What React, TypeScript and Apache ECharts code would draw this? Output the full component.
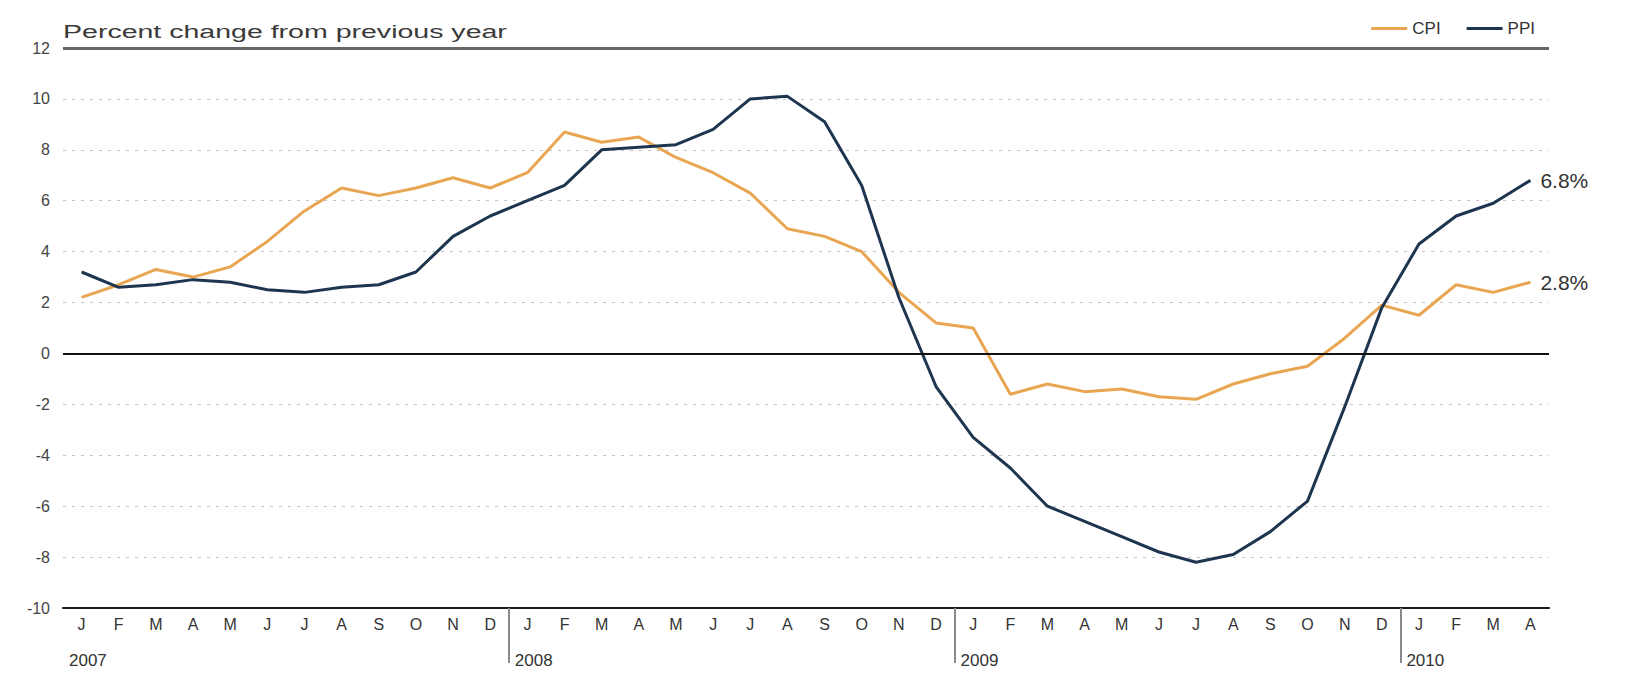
import React, { useEffect, useRef } from "react";
import * as echarts from "echarts";

const years = [2007, 2008, 2009, 2010];
const monthLetters = ["J", "F", "M", "A", "M", "J", "J", "A", "S", "O", "N", "D"];
const monthCount = 40; // Jan 2007 .. Apr 2010
const yearStarts = [0, 12, 24, 36]; // month index of each January
const yearSeparators = [12, 24, 36];

const categoryKeys: string[] = [];
for (let i = 0; i < monthCount; i++) {
  categoryKeys.push(`${years[Math.floor(i / 12)]}-${String((i % 12) + 1).padStart(2, "0")}`);
}

const cpiValues = [
  2.2, 2.7, 3.3, 3.0, 3.4, 4.4, 5.6, 6.5, 6.2, 6.5, 6.9, 6.5,
  7.1, 8.7, 8.3, 8.5, 7.7, 7.1, 6.3, 4.9, 4.6, 4.0, 2.4, 1.2,
  1.0, -1.6, -1.2, -1.5, -1.4, -1.7, -1.8, -1.2, -0.8, -0.5, 0.6, 1.9,
  1.5, 2.7, 2.4, 2.8,
];

const ppiValues = [
  3.2, 2.6, 2.7, 2.9, 2.8, 2.5, 2.4, 2.6, 2.7, 3.2, 4.6, 5.4,
  6.0, 6.6, 8.0, 8.1, 8.2, 8.8, 10.0, 10.1, 9.1, 6.6, 2.2, -1.3,
  -3.3, -4.5, -6.0, -6.6, -7.2, -7.8, -8.2, -7.9, -7.0, -5.8, -2.1, 1.8,
  4.3, 5.4, 5.9, 6.8,
];

const yTicks = { min: -10, max: 12, step: 2 };
const titleText = "Percent change from previous year";

const FONT = "Liberation Sans, Arial, sans-serif";

function measure(text: string, size: number): number {
  const c = document.createElement("canvas").getContext("2d");
  if (!c) return text.length * size * 0.5;
  c.font = `${size}px "Liberation Sans"`;
  return c.measureText(text).width;
}

export default function App() {
  const ref = useRef<HTMLDivElement>(null);

  useEffect(() => {
    if (!ref.current) return;
    const chart = echarts.init(ref.current, undefined, { renderer: "svg" });

    const titleSize = 18;
    const titleScale = 444 / measure(titleText, titleSize);

    chart.setOption({
      animation: false,
      backgroundColor: "#ffffff",
      grid: { left: 63, right: 76, top: 48, bottom: 66, containLabel: false },
      legend: {
        data: ["CPI", "PPI"],
        right: 85,
        top: 15,
        icon: "rect",
        itemWidth: 36,
        itemHeight: 3,
        itemGap: 26,
        textStyle: { fontSize: 17, color: "#333", fontFamily: FONT },
      },
      graphic: [
        {
          type: "text",
          x: 63,
          y: 32,
          scaleX: titleScale,
          style: {
            text: titleText,
            fontSize: titleSize,
            fontFamily: FONT,
            fill: "#3a3a3a",
            align: "left",
            verticalAlign: "middle",
          },
        },
      ],
      xAxis: [
        {
          type: "category",
          data: categoryKeys,
          boundaryGap: true,
          axisLine: { show: true, onZero: false, lineStyle: { color: "#1a1a1a", width: 2 } },
          axisTick: { show: false },
          axisLabel: {
            interval: 0,
            formatter: (_v: string, i: number) => monthLetters[i % 12],
            margin: 8,
            fontSize: 16,
            color: "#333",
            fontFamily: FONT,
          },
          splitLine: { show: false },
        },
        {
          type: "value",
          position: "bottom",
          min: 0,
          max: monthCount,
          interval: 12,
          axisLine: { show: false, onZero: false },
          axisTick: {
            show: true,
            customValues: yearSeparators,
            length: 55,
            lineStyle: { color: "#8a8a8a", width: 2 },
          },
          splitLine: { show: false },
          axisLabel: {
            customValues: yearStarts,
            formatter: (v: number) => String(years[Math.round(v / 12)]),
            align: "left",
            margin: 44,
            padding: [0, 0, 0, 6],
            fontSize: 17,
            color: "#333",
            fontFamily: FONT,
          },
        },
      ],
      yAxis: {
        type: "value",
        min: yTicks.min,
        max: yTicks.max,
        interval: yTicks.step,
        axisLine: { show: false },
        axisTick: { show: false },
        axisLabel: { margin: 13, fontSize: 16, color: "#444", fontFamily: FONT },
        splitLine: {
          show: true,
          lineStyle: { color: "#c4c4c4", type: [3, 6], width: 1.2 },
        },
      },
      series: [
        {
          name: "CPI",
          type: "line",
          data: cpiValues,
          symbol: "none",
          color: "#E9A652",
          lineStyle: { width: 3, color: "#E9A652" },
          endLabel: {
            show: true,
            formatter: (p: any) => `${Number(p.value).toFixed(1)}%`,
            distance: 10,
            fontSize: 21,
            color: "#333",
            fontFamily: FONT,
          },
          markLine: {
            silent: true,
            symbol: "none",
            label: { show: false },
            data: [
              { yAxis: 0, lineStyle: { color: "#111", width: 2, type: "solid" } },
              { yAxis: 12, lineStyle: { color: "#666", width: 3, type: "solid" } },
            ],
          },
        },
        {
          name: "PPI",
          type: "line",
          data: ppiValues,
          symbol: "none",
          color: "#1E3550",
          lineStyle: { width: 3, color: "#1E3550" },
          endLabel: {
            show: true,
            formatter: (p: any) => `${Number(p.value).toFixed(1)}%`,
            distance: 10,
            fontSize: 21,
            color: "#333",
            fontFamily: FONT,
          },
        },
      ],
    });

    return () => chart.dispose();
  }, []);

  return (
    <div
      ref={ref}
      style={{ position: "fixed", left: 0, top: 0, width: "1625px", height: "674px" }}
    />
  );
}
